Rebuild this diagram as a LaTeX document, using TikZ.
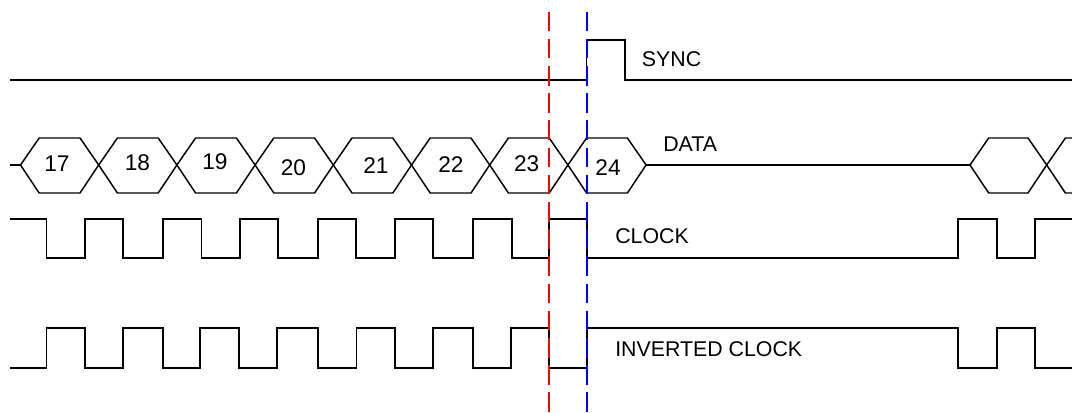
\documentclass[tikz,border=0pt]{standalone}
\usepackage{fontspec}
\setmainfont{Liberation Sans}
\begin{document}
\begin{tikzpicture}[x=0.75pt,y=-0.75pt,
  sig/.style={line width=1.1pt,line join=miter},
  marker/.style={line width=1.2pt,dash pattern=on 14.6pt off 5.8pt},
  lbl/.style={anchor=base west,inner sep=0pt,font=\fontsize{16}{18}\selectfont},
  num/.style={inner sep=0pt,font=\fontsize{17}{18}\selectfont}]
\useasboundingbox (0,0) rectangle (1072,413);
\fill[white] (0,0) rectangle (1072,413);

% SYNC
\draw[sig] (10,80) -| (586.7,40) -| (625,80) -- (1072,80);
\node[lbl] (sync) at (641.7,66.7) {SYNC};

% DATA
\draw[sig] (10,165) -- (20.5,165);
\foreach \a/\b in {20.5/98.7,98.7/176.9,176.9/255.1,255.1/333.3,333.3/411.5,411.5/489.7,489.7/567.9,567.9/646.1,970/1046.7}{
  \draw[sig] (\a,165) -- ({\a+18.7},138) -- ({\b-18.7},138) -- (\b,165);
  \draw[sig] (\a,165) -- ({\a+18.7},193) -- ({\b-18.7},193) -- (\b,165);
}
\draw[sig] (646.1,165) -- (970,165);
\draw[sig] (1046.7,165) -- (1065.4,138) -- (1072,138);
\draw[sig] (1046.7,165) -- (1065.4,193) -- (1072,193);
\node[lbl] (data) at (663,151.7) {DATA};
\node[num] (d17) at (57,164) {17};
\node[num] (d18) at (137.5,163) {18};
\node[num] (d19) at (215,161.5) {19};
\node[num] (d20) at (293.5,168) {20};
\node[num] (d21) at (376,166) {21};
\node[num] (d22) at (451,164.7) {22};
\node[num] (d23) at (526.7,164) {23};
\node[num] (d24) at (608,168) {24};

% CLOCK
\draw[sig] (10,219) -| (46.7,258) -| (85,219) -| (123,258) -| (163,219)
  -| (201.7,258) -| (240,219) -| (278,258) -| (318,219) -| (356,258)
  -| (395,219) -| (433,258) -| (473,219) -| (512,258) -| (549,219)
  -| (587,258) -| (958,219) -| (997,258) -| (1035,219) -- (1072,219);
\node[lbl] (clock) at (615,243.3) {CLOCK};

% INVERTED CLOCK
\draw[sig] (10,368) -| (46.7,328) -| (85,368) -| (123,328) -| (163,368)
  -| (200,328) -| (239,368) -| (277,328) -| (318,368) -| (356.7,328)
  -| (395,368) -| (433,328) -| (473,368) -| (511,328) -| (549,368)
  -| (587,328) -| (958,368) -| (997,328) -| (1035,368) -- (1072,368);
\node[lbl] (iclock) at (615,357) {INVERTED CLOCK};

% markers
\coordinate (rtop) at (548.7,11.7);
\coordinate (rbot) at (548.7,413);
\coordinate (btop) at (586.7,11.7);
\coordinate (bbot) at (586.7,413);
\draw[marker,red] (rtop) -- (rbot);
\draw[marker,blue] (btop) -- (bbot);
\end{tikzpicture}
\end{document}
